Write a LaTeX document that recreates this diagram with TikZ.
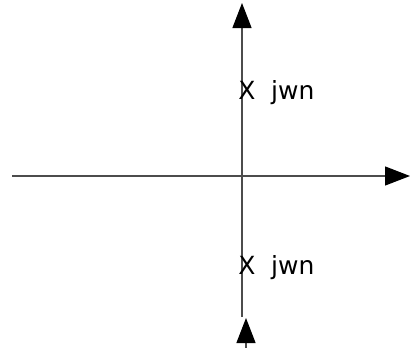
\documentclass[tikz,border=0pt]{standalone}
\usepackage{fontspec}
\setmainfont{DejaVu Sans}
\usetikzlibrary{arrows.meta}
\begin{document}
\begin{tikzpicture}[x=1pt,y=-1pt,
  axis/.style={draw=black!70,line width=1.3pt},
  tip/.style={-{Triangle[length=25pt,width=19pt,color=black,fill=black]}},
  lbl/.style={font=\fontsize{25}{25}\selectfont,inner sep=0pt,text=black}]
\useasboundingbox (0,0) rectangle (410,348);
% vertical axis
\coordinate (vb) at (242,317);
\coordinate (vt) at (242,3);
\draw[axis,tip] (vb) -- (vt);
% horizontal axis
\coordinate (hl) at (12,176);
\coordinate (hr) at (410,176);
\draw[axis,tip] (hl) -- (hr);
% separate lower arrow
\coordinate (ab) at (246,348);
\coordinate (at) at (246,318);
\draw[axis,tip] (ab) -- (at);
% poles
\node[lbl,anchor=base] (x1) at (247,99) {X};
\node[lbl,anchor=base west] (t1) at (271,99) {jwn};
\node[lbl,anchor=base] (x2) at (247,274) {X};
\node[lbl,anchor=base west] (t2) at (271,274) {jwn};
\end{tikzpicture}
\end{document}
